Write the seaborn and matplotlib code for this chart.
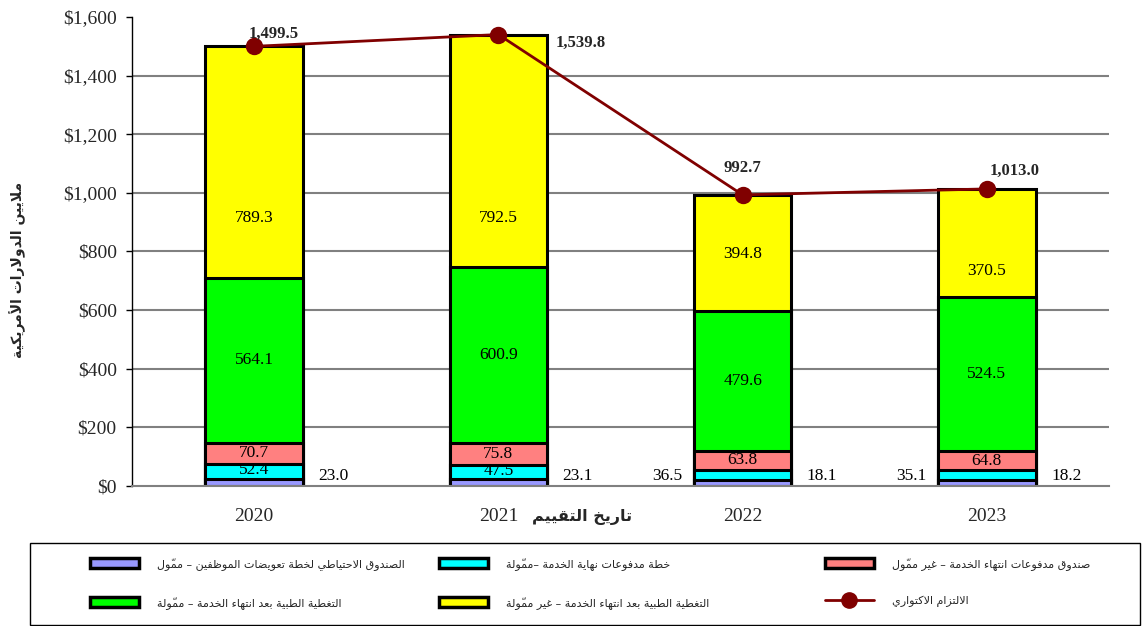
import numpy as np
import pandas as pd
import matplotlib
matplotlib.use('Agg')
import matplotlib.pyplot as plt
import seaborn as sns
from matplotlib.patches import Patch, Rectangle
from matplotlib.lines import Line2D
from matplotlib.ticker import FuncFormatter, FixedLocator

years = ['2020', '2021', '2022', '2023']
reserve_funded = [23.0, 23.1, 18.1, 18.2]
eosp_funded = [52.4, 47.5, 36.5, 35.1]
eosp_unfunded = [70.7, 75.8, 63.8, 64.8]
asmc_funded = [564.1, 600.9, 479.6, 524.5]
asmc_unfunded = [789.3, 792.5, 394.8, 370.5]
actuarial_liability = [1499.5, 1539.8, 992.7, 1013.0]

# the yellow labels are not centred in the original (value on y axis)
unfunded_label_y = [914, 914, 791, 734]

series_names = [
    'الصندوق الاحتياطي لخطة تعويضات الموظفين – مموّل',
    'خطة مدفوعات نهاية الخدمة –مموّلة',
    'صندوق مدفوعات انتهاء الخدمة – غير مموّل',
    'التغطية الطبية بعد انتهاء الخدمة – مموّلة',
    'التغطية الطبية بعد انتهاء الخدمة – غير مموّلة',
]
line_name = 'الالتزام الاكتواري'
ylabel_txt = 'ملايين الدولارات الأمريكية'
xlabel_txt = 'تاريخ التقييم'

colors = ['#9999FF', '#00FFFF', '#FF8080', '#00FF00', '#FFFF00']
line_color = '#800000'

# --- tiny arabic shaper (matplotlib does no shaping / bidi) ---
_counts = [1, 2, 2, 2, 2, 4, 2, 4, 2, 4, 4, 4, 4, 4, 2, 2, 2, 2, 4, 4, 4, 4, 4, 4, 4, 4] + \
          [4, 4, 4, 4, 4, 4, 4, 2, 2, 4]
_letters = [chr(c) for c in range(0x621, 0x63B)] + [chr(c) for c in range(0x641, 0x64B)]
FORMS = {}
_code = 0xFE80
for _ch, _n in zip(_letters, _counts):
    FORMS[_ch] = (_code, _n)
    _code += _n
LAM_ALEF = {'\u0622': 0xFEF5, '\u0623': 0xFEF7, '\u0625': 0xFEF9, '\u0627': 0xFEFB}
MARKS = set(chr(c) for c in range(0x64B, 0x653))


def ar(text):
    chars = list(text)
    n = len(chars)

    def neighbour(i, step):
        j = i + step
        while 0 <= j < n and chars[j] in MARKS:
            j += step
        return chars[j] if 0 <= j < n else None

    clusters = []
    i = 0
    while i < n:
        c = chars[i]
        if c in MARKS and clusters:
            clusters[-1] += c
            i += 1
            continue
        if c in FORMS:
            p = neighbour(i, -1)
            joins_prev = p in FORMS and FORMS[p][1] == 4
            nx = neighbour(i, 1)
            if c == '\u0644' and nx in LAM_ALEF:
                g = chr(LAM_ALEF[nx] + (1 if joins_prev else 0))
                j = i + 1
                while chars[j] in MARKS:
                    j += 1
                clusters.append(g)
                i = j + 1
                continue
            base, cnt = FORMS[c]
            joins_next = cnt == 4 and nx in FORMS and FORMS[nx][1] >= 2
            if cnt == 1:
                g = base
            elif joins_prev and joins_next:
                g = base + 3
            elif joins_prev:
                g = base + 1
            elif joins_next:
                g = base + 2
            else:
                g = base
            clusters.append(chr(g))
        else:
            clusters.append(c)
        i += 1
    return ''.join(reversed(clusters))


sns.set_style('white')
plt.rcParams['font.family'] = ['Liberation Serif', 'DejaVu Sans']

fig, ax = plt.subplots(figsize=(11.48, 6.26), dpi=100)
fig.subplots_adjust(left=0.115, right=0.966, bottom=0.224, top=0.973)

layers = [reserve_funded, eosp_funded, eosp_unfunded, asmc_funded, asmc_unfunded]
cum = np.cumsum(np.array(layers), axis=0)

# stacked bars = cumulative bars drawn from the top layer down
for k in reversed(range(len(layers))):
    sns.barplot(x=years, y=cum[k], color=colors[k], saturation=1, width=0.4,
                edgecolor='black', linewidth=2.2, ax=ax)

sns.pointplot(x=years, y=actuarial_liability, color=line_color, markersize=11,
              linewidth=2, ax=ax)

ax.set_ylim(0, 1600)
ax.set_xlim(-0.5, 3.5)
ax.yaxis.set_major_locator(FixedLocator(np.arange(0, 1601, 200)))
ax.yaxis.set_major_formatter(FuncFormatter(lambda v, p: f'${v:,.0f}'))
for yv in range(200, 1600, 200):
    ax.axhline(yv, color='#808080', lw=1.5, zorder=0)
ax.set_xlabel('')
ax.set_ylabel('')

ax.xaxis.set_minor_locator(FixedLocator([-0.5, 0.5, 1.5, 2.5, 3.5]))
ax.tick_params(axis='x', which='major', length=0, pad=16, labelsize=14)
ax.tick_params(axis='x', which='minor', length=6, width=1, color='#606060', direction='out')
ax.tick_params(axis='y', which='major', length=4, width=1, color='black', direction='out',
               pad=7, labelsize=14, left=True)
for s in ['top', 'right']:
    ax.spines[s].set_visible(False)
ax.spines['left'].set_color('black')
ax.spines['left'].set_linewidth(1)
ax.spines['bottom'].set_color('#808080')
ax.spines['bottom'].set_linewidth(1.5)

# value labels
lab_kw = dict(fontsize=12.5, color='black')
for i in range(len(years)):
    ax.text(i, unfunded_label_y[i], f'{asmc_unfunded[i]:.1f}', ha='center', va='center', **lab_kw)
    mid = (cum[2][i] + cum[3][i]) / 2
    ax.text(i, mid, f'{asmc_funded[i]:.1f}', ha='center', va='center', **lab_kw)
    mid = (cum[1][i] + cum[2][i]) / 2
    ax.text(i, mid, f'{eosp_unfunded[i]:.1f}', ha='center', va='center', **lab_kw)
    if eosp_funded[i] > 40:
        mid = (cum[0][i] + cum[1][i]) / 2
        ax.text(i, mid + 5, f'{eosp_funded[i]:.1f}', ha='center', va='center', **lab_kw)
    else:
        ax.annotate(f'{eosp_funded[i]:.1f}', (i - 0.2, 0), xytext=(-8, 1),
                    textcoords='offset points', ha='right', va='bottom', **lab_kw)
    ax.annotate(f'{reserve_funded[i]:.1f}', (i + 0.2, 0), xytext=(11, 1),
                textcoords='offset points', ha='left', va='bottom', **lab_kw)

total_offsets = [(14, 9), (59, -6), (0, 19), (20, 13)]
for i, v in enumerate(actuarial_liability):
    ax.annotate(f'{v:,.1f}', (i, v), xytext=total_offsets[i], textcoords='offset points',
                ha='center', va='center', fontsize=12, fontweight='bold')

fig.text(18 / 1148, 1 - 270 / 626, ar(ylabel_txt), rotation=90, ha='center', va='center',
         family='DejaVu Sans', fontsize=10, fontweight='bold')
fig.text(582 / 1148, 1 - 517 / 626, ar(xlabel_txt), ha='center', va='center',
         family='DejaVu Sans', fontsize=11.5, fontweight='bold')

# legend box like the excel one, one small legend per column
fig.patches.append(Rectangle((30 / 1148, 1 - 625 / 626), 1110 / 1148, 82 / 626,
                             transform=fig.transFigure, facecolor='white',
                             edgecolor='black', linewidth=1, zorder=0))
patches = [Patch(facecolor=c, edgecolor='black', linewidth=2.5) for c in colors]
line_h = Line2D([], [], color=line_color, lw=2, marker='o', markersize=11)
columns = [
    ([patches[0], patches[3]], [series_names[0], series_names[3]], 90),
    ([patches[1], patches[4]], [series_names[1], series_names[4]], 439),
    ([patches[2], line_h], [series_names[2], line_name], 825),
]
for hs, ls, x0 in columns:
    fig.legend(hs, [ar(t) for t in ls], loc='upper left', ncol=1,
               bbox_to_anchor=(x0 / 1148, 1 - 557 / 626),
               frameon=False, prop={'family': 'DejaVu Sans', 'size': 8},
               handlelength=4.4, handleheight=1.0, labelspacing=2.3,
               handletextpad=1.6, borderaxespad=0, borderpad=0)

fig.savefig('out.png', dpi=100)
